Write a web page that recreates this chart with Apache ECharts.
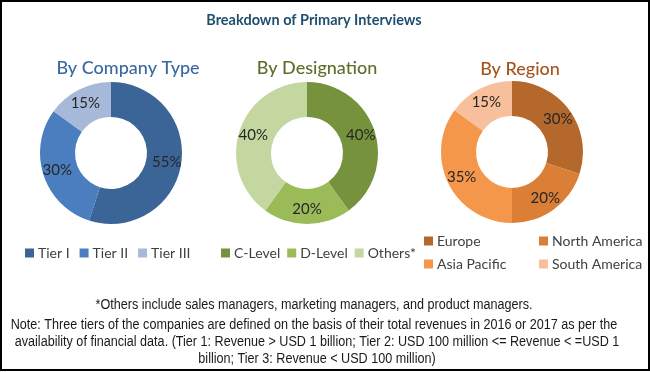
<!DOCTYPE html>
<html><head><meta charset="utf-8">
<script src="https://cdn.jsdelivr.net/npm/echarts@6/dist/echarts.min.js"></script>
<style>html,body{margin:0;padding:0;background:#fff}#c{width:650px;height:372px}</style>
</head><body><div id="c"></div>
<script>
const companyNames = ['Tier I', 'Tier II', 'Tier III'];
const companyValues = [55, 30, 15];
const designationNames = ['C-Level', 'D-Level', 'Others*'];
const designationValues = [40, 20, 40];
const regionNames = ['Europe', 'North America', 'Asia Pacific', 'South America'];
const regionValues = [30, 20, 35, 15];
const mainTitle = 'Breakdown of Primary Interviews';
const pieTitles = ['By Company Type', 'By Designation', 'By Region'];
const footnote = '*Others include sales managers, marketing managers, and product managers.';
const noteLines = [
  'Note: Three tiers of the companies are defined on the basis of their total revenues in 2016 or 2017 as per the',
  'availability of financial data. (Tier 1: Revenue > USD 1 billion; Tier 2: USD 100 million <= Revenue < =USD 1',
  'billion; Tier 3: Revenue < USD 100 million)'
];

const companyColors = ['#3B6597', '#4A7EBF', '#A7B9D8'];
const designationColors = ['#76923C', '#9BBB59', '#C4D7A0'];
const regionColors = ['#B5682C', '#DA7F35', '#F5974A', '#F8BF9D'];

const chart = echarts.init(document.getElementById('c'), null, {renderer: 'canvas'});
const F = 'Lato, "Open Sans", sans-serif';
const NF = '14px "Liberation Sans", Arial, sans-serif';
const narrow = 0.9;

function mk(names, vals, colors) {
  return names.map((n, i) => ({name: n, value: vals[i], itemStyle: {color: colors[i]}}));
}
function pie(center, data) {
  return {
    type: 'pie', center: center, radius: [36, 71], startAngle: 90, clockwise: true,
    data: data, silent: true, animation: false,
    itemStyle: {borderWidth: 0},
    label: {show: true, position: 'inside', formatter: '{c}%', color: '#262626', fontSize: 15, fontFamily: F},
    labelLine: {show: false}, emphasis: {disabled: true}
  };
}
const legendBase = {
  icon: 'rect', itemWidth: 9, itemHeight: 9, selectedMode: false, padding: 0,
  textStyle: {color: '#404040', fontSize: 14, fontFamily: F, padding: [0, 0, 0, -1]}
};
function noteText(txt, cx, cy) {
  return {type: 'text', silent: true, x: cx, y: cy, scaleX: narrow,
    style: {text: txt, font: NF, fill: '#1a1a1a', textAlign: 'center', textVerticalAlign: 'middle'}};
}
function ttl(text, cx, top, size, color, weight) {
  return {text: text, left: cx, top: top, textAlign: 'center', padding: 0,
    textStyle: {color: color, fontSize: size, fontWeight: weight, fontFamily: F}};
}
chart.setOption({
  animation: false,
  title: [
    ttl(mainTitle, 314, 13, 14.5, '#1F4E6E', 'bold'),
    ttl(pieTitles[0], 128, 59, 18, '#3A68A0', 500),
    ttl(pieTitles[1], 317, 59, 18, '#5C6E2B', 500),
    ttl(pieTitles[2], 520, 60, 18, '#A5541C', 500)
  ],
  legend: [
    Object.assign({}, legendBase, {data: companyNames, left: 25, top: 246, itemGap: 10}),
    Object.assign({}, legendBase, {data: designationNames, left: 221, top: 246, itemGap: 7}),
    Object.assign({}, legendBase, {data: [regionNames[0], regionNames[2]], left: 424, top: 234, orient: 'vertical', itemGap: 9}),
    Object.assign({}, legendBase, {data: [regionNames[1], regionNames[3]], left: 539, top: 234, orient: 'vertical', itemGap: 9})
  ],
  series: [
    pie([111, 153], mk(companyNames, companyValues, companyColors)),
    pie([307, 153], mk(designationNames, designationValues, designationColors)),
    pie([512, 152], mk(regionNames, regionValues, regionColors))
  ],
  graphic: [
    noteText(footnote, 314, 305),
    noteText(noteLines[0], 314, 325),
    noteText(noteLines[1], 317, 342),
    noteText(noteLines[2], 317, 359),
    {type: 'rect', silent: true, shape: {x: 1, y: 1, width: 648, height: 369},
     style: {fill: 'none', stroke: '#000', lineWidth: 2}}
  ]
});
</script></body></html>
